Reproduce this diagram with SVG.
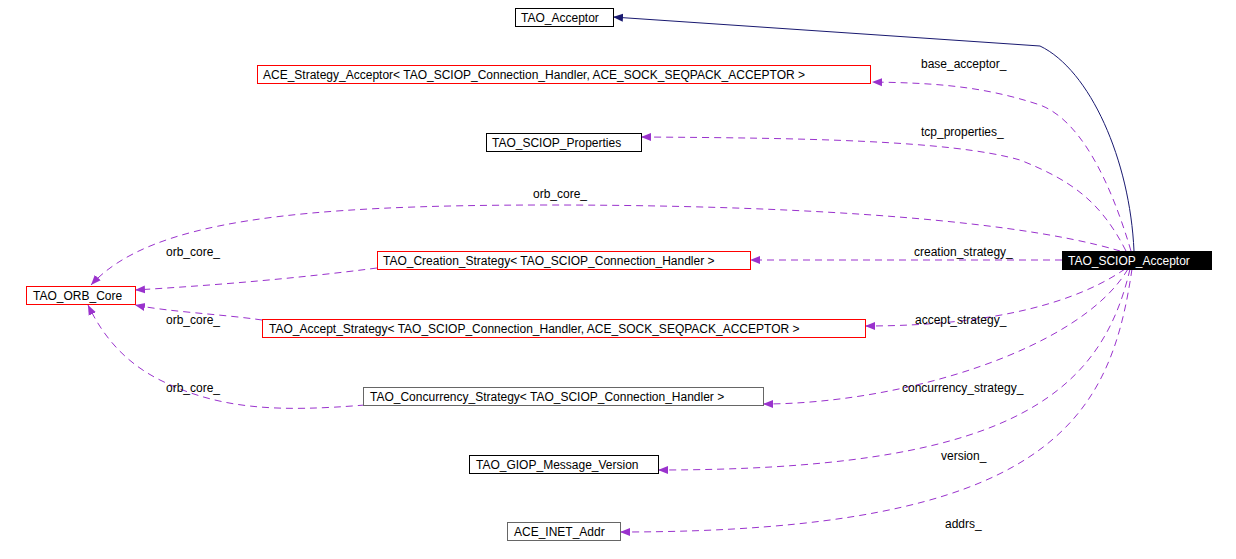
<svg xmlns="http://www.w3.org/2000/svg" width="1236" height="559" viewBox="0 0 1236 559">
<style>
text{font-family:"Liberation Sans",Arial,sans-serif;font-size:12px;fill:#000}
.n rect{fill:#fff;stroke:#000;stroke-width:1}
.r rect{stroke:#f00}
.g rect{stroke:#666}
.e{fill:none;stroke:#9a32cd;stroke-width:1;stroke-dasharray:7,5}
.s{fill:none;stroke:#191970;stroke-width:1}
</style>
<defs>
<marker id="p" viewBox="0 0 10 10" refX="10" refY="5" markerWidth="10" markerHeight="10" markerUnits="userSpaceOnUse" orient="auto"><path d="M0,1L10,5L0,9z" fill="#9a32cd"/></marker>
<marker id="b" viewBox="0 0 10 10" refX="10" refY="5" markerWidth="10" markerHeight="10" markerUnits="userSpaceOnUse" orient="auto"><path d="M0,1L10,5L0,9z" fill="#191970"/></marker>
</defs>
<rect width="1236" height="559" fill="#fff"/>
<g id="edges">
<path class="s" d="M1134,251C1130,160 1090,70 1040,46L613,17" marker-end="url(#b)"/>
<path class="e" d="M1131,251C1110,180 1080,120 1040,105C980,85 930,83 872,82" marker-end="url(#p)"/>
<path class="e" d="M1126,251C1100,200 1070,180 1020,160C950,140 800,138 641,137" marker-end="url(#p)"/>
<path class="e" d="M1120,251C1000,215 750,205 550,205C300,205 150,220 91,285" marker-end="url(#p)"/>
<path class="e" d="M1062,260L750,260" marker-end="url(#p)"/>
<path class="e" d="M377,268C300,278 220,285 135,290" marker-end="url(#p)"/>
<path class="e" d="M1125,269C1080,300 1000,326 865,326" marker-end="url(#p)"/>
<path class="e" d="M262,320C220,314 170,312 135,305" marker-end="url(#p)"/>
<path class="e" d="M1128,269C1080,350 900,404 763,404" marker-end="url(#p)"/>
<path class="e" d="M365,405C280,412 220,410 160,380C120,360 100,330 88,305" marker-end="url(#p)"/>
<path class="e" d="M1130,269C1100,400 1000,470 658,470" marker-end="url(#p)"/>
<path class="e" d="M1132,269C1110,420 1050,532 620,532" marker-end="url(#p)"/>
<text x="921" y="68">base_acceptor_</text>
<text x="921" y="136">tcp_properties_</text>
<text x="533" y="198">orb_core_</text>
<text x="914" y="256">creation_strategy_</text>
<text x="166" y="256">orb_core_</text>
<text x="915" y="324">accept_strategy_</text>
<text x="166" y="324">orb_core_</text>
<text x="902" y="392">concurrency_strategy_</text>
<text x="166" y="392">orb_core_</text>
<text x="941" y="460">version_</text>
<text x="945" y="528">addrs_</text>
</g>
<g id="TAO_Acceptor" class="n"><rect x="515.5" y="8.5" width="98" height="18"/><text x="521" y="22">TAO_Acceptor</text></g>
<g id="ACE_Strategy_Acceptor" class="n r"><rect x="257.5" y="65.5" width="613" height="18"/><text x="263" y="79">ACE_Strategy_Acceptor&lt; TAO_SCIOP_Connection_Handler, ACE_SOCK_SEQPACK_ACCEPTOR &gt;</text></g>
<g id="TAO_SCIOP_Properties" class="n"><rect x="486.5" y="133.5" width="155" height="18"/><text x="492" y="147">TAO_SCIOP_Properties</text></g>
<g id="TAO_Creation_Strategy" class="n r"><rect x="377.5" y="251.5" width="373" height="18"/><text x="383" y="265">TAO_Creation_Strategy&lt; TAO_SCIOP_Connection_Handler &gt;</text></g>
<g id="TAO_SCIOP_Acceptor"><rect x="1062" y="251" width="150" height="19" fill="#000"/><text x="1068" y="265" style="fill:#fff">TAO_SCIOP_Acceptor</text></g>
<g id="TAO_ORB_Core" class="n r"><rect x="26.5" y="286.5" width="109" height="18"/><text x="33" y="300">TAO_ORB_Core</text></g>
<g id="TAO_Accept_Strategy" class="n r"><rect x="262.5" y="319.5" width="603" height="18"/><text x="269" y="333">TAO_Accept_Strategy&lt; TAO_SCIOP_Connection_Handler, ACE_SOCK_SEQPACK_ACCEPTOR &gt;</text></g>
<g id="TAO_Concurrency_Strategy" class="n g"><rect x="363.5" y="387.5" width="400" height="18"/><text x="370" y="401">TAO_Concurrency_Strategy&lt; TAO_SCIOP_Connection_Handler &gt;</text></g>
<g id="TAO_GIOP_Message_Version" class="n"><rect x="469.5" y="455.5" width="189" height="18"/><text x="476" y="469">TAO_GIOP_Message_Version</text></g>
<g id="ACE_INET_Addr" class="n g"><rect x="507.5" y="522.5" width="113" height="18"/><text x="514" y="536">ACE_INET_Addr</text></g>
</svg>
